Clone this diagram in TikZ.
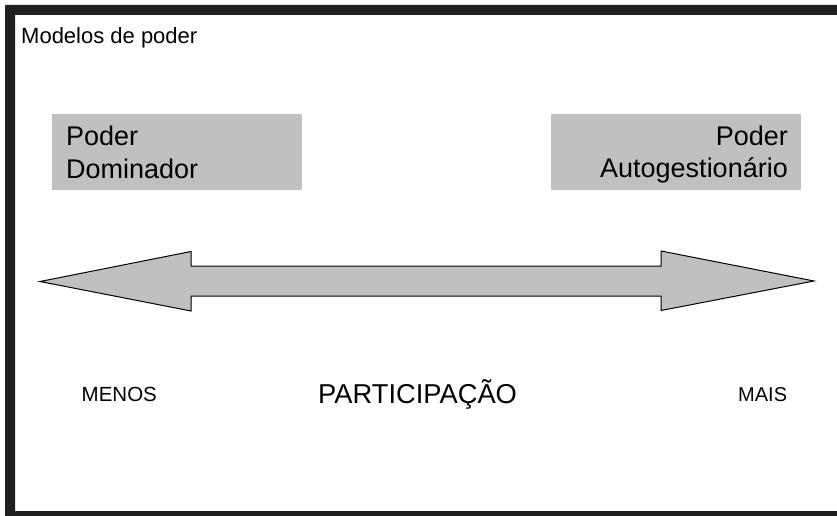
\documentclass[tikz,border=0pt]{standalone}
\usepackage{fontspec}
\setmainfont{Liberation Sans}
\definecolor{panelgray}{HTML}{C0C0C0}
\definecolor{framedark}{HTML}{202020}
\tikzset{
  panel/.style={fill=panelgray, draw=none, inner sep=0pt},
  label/.style={inner sep=0pt, text=black},
  bigarrow/.style={fill=panelgray, draw=black, line width=1pt, line join=miter}
}
\begin{document}
\begin{tikzpicture}[x=1pt, y=-1pt]
  \useasboundingbox (0,0) rectangle (837,516);
  \fill[white] (0,0) rectangle (837,516);
  % heavy frame: left, top and bottom edges
  \fill[framedark, even odd rule] (5,5) rectangle (837,516) (15,15) rectangle (837,511);

  \node[label, anchor=base west, font=\fontsize{22}{26}\selectfont] (title) at (21,43.5) {Modelos de poder};

  % the two grey panels
  \node[panel, minimum width=250pt, minimum height=75pt, anchor=north west] (left) at (51.7,114.3) {};
  \node[panel, minimum width=250pt, minimum height=75pt, anchor=north west] (right) at (551,114.3) {};
  \node[label, anchor=base west, font=\fontsize{27}{33}\selectfont] (leftA) at (66,145) {Poder};
  \node[label, anchor=base west, font=\fontsize{27}{33}\selectfont] (leftB) at (66,178) {Dominador};
  \node[label, anchor=base east, font=\fontsize{27}{33}\selectfont] (rightA) at (788,145) {Poder};
  \node[label, anchor=base east, font=\fontsize{27}{33}\selectfont] (rightB) at (788,177.5) {Autogestionário};

  % double-headed block arrow
  \draw[bigarrow] (40,281.5) -- (191,251.5) -- (191,266) -- (661,266) -- (661,251)
    -- (814,281) -- (661,310.5) -- (661,296) -- (191,296) -- (191,311) -- cycle;

  \node[label, anchor=base west, font=\fontsize{20.5}{24}\selectfont] (menos) at (81.5,401.7) {MENOS};
  \node[label, anchor=base west, font=\fontsize{27.3}{32}\selectfont] (part) at (318,403.3) {PARTICIPAÇÃO};
  \node[label, anchor=base west, font=\fontsize{20}{24}\selectfont] (mais) at (738,401.7) {MAIS};
\end{tikzpicture}
\end{document}
